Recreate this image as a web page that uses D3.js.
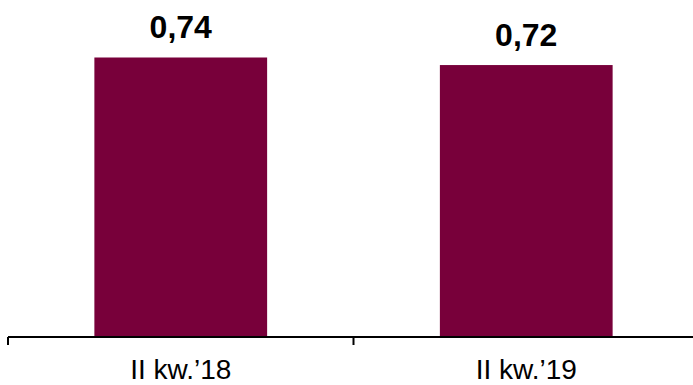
<!DOCTYPE html>
<html>
<head>
<meta charset="utf-8">
<script src="https://cdn.jsdelivr.net/npm/d3@7"></script>
<style>
  html, body { margin: 0; padding: 0; background: #fff; }
  svg { display: block; }
</style>
</head>
<body>
<svg id="chart" width="693" height="385"></svg>
<script>
// Quarterly values
const categories = ["II kw.\u201918", "II kw.\u201919"];
const values = [0.74, 0.72];
const valueLabels = ["0,74", "0,72"];

const width = 693, height = 385;
const baseline = 337;
const svg = d3.select("#chart");

const x = d3.scaleBand()
  .domain(categories)
  .range([8, 699])
  .paddingInner(0.5)
  .paddingOuter(0.25);

const y = d3.scaleLinear()
  .domain([0, 0.74])
  .range([baseline, 57.5]);

// Bars
svg.selectAll("rect.bar")
  .data(values)
  .join("rect")
  .attr("class", "bar")
  .attr("x", (d, i) => x(categories[i]))
  .attr("width", x.bandwidth())
  .attr("y", d => y(d))
  .attr("height", d => baseline - y(d))
  .attr("fill", "#78003a");

// Value labels
svg.selectAll("text.value")
  .data(values)
  .join("text")
  .attr("class", "value")
  .attr("x", (d, i) => x(categories[i]) + x.bandwidth() / 2)
  .attr("y", d => y(d) - 19.5)
  .attr("text-anchor", "middle")
  .attr("font-family", "Liberation Sans, Arial, sans-serif")
  .attr("font-weight", "bold")
  .attr("font-size", 32)
  .attr("fill", "#000")
  .text((d, i) => valueLabels[i]);

// Category axis: baseline with ticks at band boundaries
const step = x.step();
const boundaries = [x.range()[0], x.range()[0] + step, x.range()[0] + 2 * step];
const axis = svg.append("g");
axis.append("line")
  .attr("x1", 8).attr("x2", width)
  .attr("y1", baseline).attr("y2", baseline)
  .attr("stroke", "#000").attr("stroke-width", 2);
axis.selectAll("line.tick")
  .data(boundaries)
  .join("line")
  .attr("class", "tick")
  .attr("x1", d => d).attr("x2", d => d)
  .attr("y1", baseline).attr("y2", baseline + 8)
  .attr("stroke", "#000").attr("stroke-width", 2);

axis.selectAll("text.cat")
  .data(categories)
  .join("text")
  .attr("class", "cat")
  .attr("x", d => x(d) + x.bandwidth() / 2)
  .attr("y", 379)
  .attr("text-anchor", "middle")
  .attr("font-family", "Liberation Sans, Arial, sans-serif")
  .attr("font-size", 28)
  .attr("fill", "#000")
  .text(d => d);
</script>
</body>
</html>
